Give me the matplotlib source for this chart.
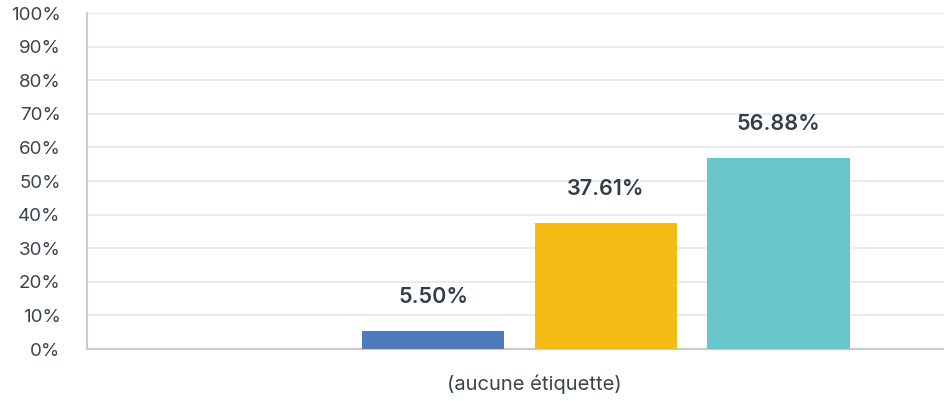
import matplotlib.pyplot as plt
import numpy as np

plt.rcParams['font.family'] = ['Inter', 'DejaVu Sans']

category = "(aucune étiquette)"
series_values = [0.0, 5.50, 37.61, 56.88]
series_colors = ["#8e9aa8", "#4e7bb9", "#f6bc16", "#69c7cb"]
yticks = np.arange(0, 101, 10)

fig = plt.figure(figsize=(9.45, 4.01), dpi=100)
# axes runs a bit past the right edge, like the cropped original
ax = fig.add_axes([87 / 945, 1 - 349 / 401, 894 / 945, (349 - 13) / 401])

n = len(series_values)
slot = 0.193
width = 0.159
shift = -0.016
for i, (val, col) in enumerate(zip(series_values, series_colors)):
    x = shift + (i - (n - 1) / 2) * slot
    ax.bar(x, val, width=width, color=col, zorder=3)
    if val > 0:
        ax.annotate(f"{val:.2f}%", (x, val), xytext=(0, 20), textcoords="offset points",
                    ha="center", va="baseline", fontsize=15.5, fontweight="semibold",
                    color="#333d48")

ax.set_xlim(-0.5, 0.5)
ax.set_ylim(0, 100)
ax.set_yticks(yticks)
ax.set_yticklabels([f"{t}%" for t in yticks], fontsize=13.5, color="#3a4450")
ax.set_xticks([0])
ax.set_xticklabels([category], fontsize=14.5, color="#3a4450")
ax.tick_params(axis="y", length=0, pad=19)
ax.tick_params(axis="x", length=0, pad=18)

ax.grid(axis="y", color="#ebebeb", linewidth=1.5, zorder=0)
for s in ["top", "right"]:
    ax.spines[s].set_visible(False)
for s in ["left", "bottom"]:
    ax.spines[s].set_color("#cccccc")
    ax.spines[s].set_linewidth(1.5)

fig.savefig("out.png", dpi=100)
